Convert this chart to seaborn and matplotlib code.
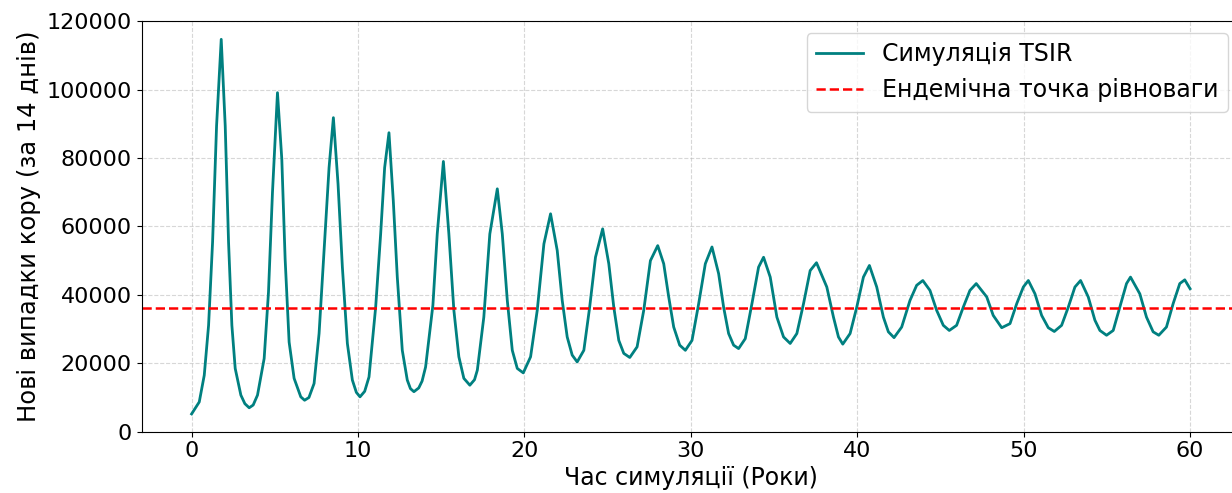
import matplotlib
matplotlib.use("Agg")
import matplotlib.pyplot as plt
import seaborn as sns
import pandas as pd

### DATA
years = [
    0.00, 0.46, 0.76, 1.02, 1.26, 1.50, 1.78, 2.02, 2.22, 2.42, 2.62, 2.96,
    3.20, 3.46, 3.70, 3.96, 4.36, 4.62, 4.86, 5.16, 5.42, 5.62, 5.86, 6.16, 6.56,
    6.79, 7.05, 7.36, 7.66, 7.96, 8.26, 8.52, 8.80, 9.06, 9.36, 9.66,
    9.90, 10.12, 10.40, 10.66, 11.06, 11.36, 11.60, 11.86, 12.12, 12.36, 12.66, 12.96,
    13.15, 13.36, 13.65, 13.85, 14.06, 14.50, 14.76, 15.13, 15.46, 15.76, 16.06, 16.36,
    16.72, 17.00, 17.17, 17.56, 17.92, 18.37, 18.67, 18.97, 19.27, 19.57,
    19.93, 20.37, 20.77, 21.17, 21.57, 21.97, 22.27, 22.57, 22.87,
    23.17, 23.57, 23.92, 24.27, 24.70, 25.07, 25.37, 25.67, 25.97,
    26.33, 26.77, 27.17, 27.57, 28.01, 28.37, 28.67, 28.97, 29.33,
    29.67, 30.07, 30.47, 30.87, 31.27, 31.67, 31.97, 32.27, 32.57,
    32.87, 33.27, 33.67, 34.07, 34.37, 34.77, 35.17, 35.57,
    35.97, 36.37, 36.77, 37.17, 37.55, 38.17, 38.57, 38.87,
    39.13, 39.57, 39.97, 40.37, 40.73, 41.17, 41.57, 41.87,
    42.21, 42.67, 43.17, 43.57, 43.94, 44.37, 44.77, 45.17,
    45.53, 45.97, 46.37, 46.77, 47.15, 47.78, 48.17,
    48.68, 49.18, 49.58, 49.98, 50.28, 50.68, 51.08, 51.48,
    51.84, 52.28, 52.68, 53.08, 53.42, 53.88, 54.28, 54.58,
    54.98, 55.38, 55.78, 56.18, 56.42, 56.98, 57.38, 57.78,
    58.12, 58.58, 58.98, 59.38, 59.68, 60.00,
]
new_cases = [
    5200, 8700, 16500, 31100, 55400, 89400, 114700, 89400, 55400, 31100, 18500, 10700,
    8200, 7000, 7800, 10700, 21400, 40800, 70000, 99100, 79700, 50500, 26200, 15600, 10200,
    9200, 10000, 14100, 28700, 53000, 77200, 91800, 72400, 48100, 25800, 15100,
    11500, 10200, 11800, 16000, 36400, 57800, 77200, 87400, 67500, 45200, 23800, 15100,
    12600, 11700, 12800, 14800, 18900, 37000, 57800, 79000, 57800, 35500, 21900, 15600,
    13600, 15200, 18000, 33500, 57800, 71000, 57800, 38400, 23800, 18500,
    17200, 21900, 35500, 54900, 63700, 53000, 38400, 27700, 22400,
    20400, 23800, 36400, 51000, 59300, 49100, 36400, 26700, 22900,
    21700, 24800, 35500, 50000, 54400, 49100, 39400, 30600, 25300,
    23800, 26700, 37400, 49100, 54000, 46200, 36400, 28700, 25300,
    24300, 27200, 37400, 48100, 51000, 45200, 33500, 27700,
    25800, 28700, 37400, 47100, 49400, 42300, 33500, 27700,
    25600, 28700, 36400, 45200, 48600, 42300, 33500, 29200,
    27500, 30600, 38400, 42800, 44200, 41300, 35500, 31100,
    29600, 31100, 36400, 41300, 43300, 39400, 34000,
    30400, 31600, 37400, 42300, 44200, 40300, 34000, 30400,
    29300, 31100, 36400, 42300, 44200, 39400, 32600, 29600,
    28200, 29600, 36400, 43300, 45200, 40300, 33500, 29200,
    28200, 30600, 37400, 43300, 44400, 41800,
]
endemic_level = 36300

df = pd.DataFrame({"years": years, "cases": new_cases})

### PLOT
fig = plt.figure(figsize=(12.32, 4.93), dpi=100)
ax = fig.add_axes([0.115, 0.1243, 0.8915, 0.8327])

sns.lineplot(data=df, x="years", y="cases", color="teal", linewidth=2,
             label="Симуляція TSIR", ax=ax)
ax.axhline(endemic_level, color="red", linestyle="--", linewidth=1.8,
           label="Ендемічна точка рівноваги")

ax.set_xlim(-3, 63)
ax.set_ylim(0, 120000)
ax.set_xticks([0, 10, 20, 30, 40, 50, 60])
ax.set_yticks([0, 20000, 40000, 60000, 80000, 100000, 120000])
ax.tick_params(labelsize=16)
ax.grid(True, linestyle="--", linewidth=0.8, color="#b0b0b0", alpha=0.5)

ax.set_xlabel("Час симуляції (Роки)", fontsize=17, labelpad=3)
ax.set_ylabel("Нові випадки кору (за 14 днів)", fontsize=17.5)
ax.legend(loc="upper right", fontsize=17)

plt.savefig("out.png", dpi=100)
